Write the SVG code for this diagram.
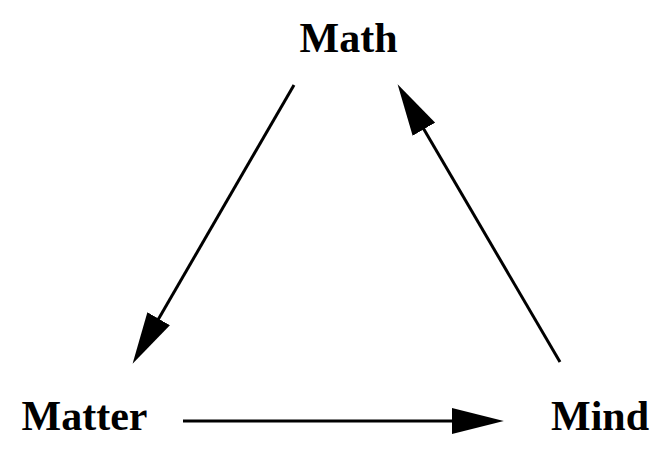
<svg xmlns="http://www.w3.org/2000/svg" width="670" height="464" viewBox="0 0 670 464">
<style>
.lbl{font-family:"Liberation Serif","Times New Roman",serif;font-weight:bold;font-size:42px;fill:#000}
.edge{stroke:#000;stroke-width:3;fill:none}
</style>
<defs>
<marker id="ah" markerUnits="userSpaceOnUse" markerWidth="52" markerHeight="27" viewBox="0 0 50 25" refX="30" refY="12.5" orient="auto">
<path d="M0,0 L50,12.5 L0,25 z" fill="#000"/>
</marker>
</defs>
<rect width="670" height="464" fill="#fff"/>
<g id="connectors">
<line class="edge" x1="294" y1="85" x2="143" y2="345.7" marker-end="url(#ah)"/>
<line class="edge" x1="560" y1="362" x2="408.1" y2="102.3" marker-end="url(#ah)"/>
<line class="edge" x1="183" y1="421" x2="483" y2="421" marker-end="url(#ah)"/>
</g>
<g id="math"><text class="lbl" x="348.5" y="52" text-anchor="middle">Math</text></g>
<g id="matter"><text class="lbl" x="84.5" y="430" text-anchor="middle">Matter</text></g>
<g id="mind"><text class="lbl" x="600" y="430" text-anchor="middle">Mind</text></g>
</svg>
